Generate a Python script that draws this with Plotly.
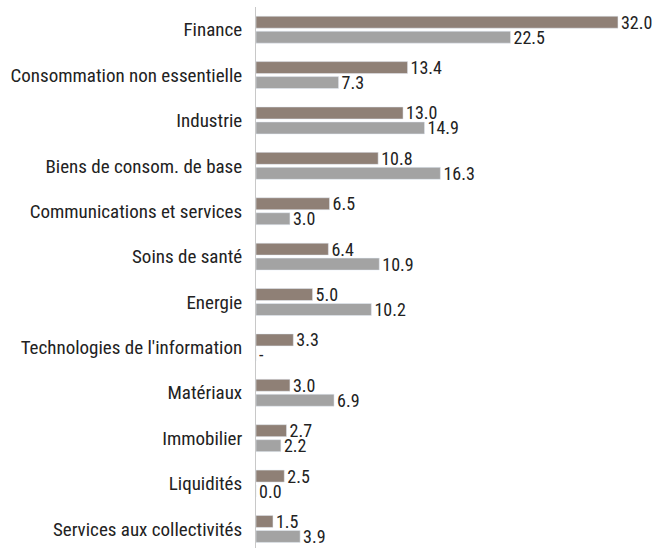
import plotly.graph_objects as go

categories = ["Finance", "Consommation non essentielle", "Industrie", "Biens de consom. de base",
              "Communications et services", "Soins de santé", "Energie",
              "Technologies de l'information", "Matériaux", "Immobilier", "Liquidités",
              "Services aux collectivités"]
series_a = [32.0, 13.4, 13.0, 10.8, 6.5, 6.4, 5.0, 3.3, 3.0, 2.7, 2.5, 1.5]
series_b = [22.5, 7.3, 14.9, 16.3, 3.0, 10.9, 10.2, 0.0, 6.9, 2.2, 0.0, 3.9]
labels_a = ["32.0", "13.4", "13.0", "10.8", "6.5", "6.4", "5.0", "3.3", "3.0", "2.7", "2.5", "1.5"]
labels_b = ["22.5", "7.3", "14.9", "16.3", "3.0", "10.9", "10.2", "-", "6.9", "2.2", "0.0", "3.9"]

FONT = "Roboto Condensed, Liberation Sans Narrow, Arial Narrow, sans-serif"

fig = go.Figure()
fig.add_trace(go.Bar(y=categories, x=series_a, orientation="h", marker_color="#8f8076",
                     text=labels_a, textposition="outside", cliponaxis=False,
                     textfont=dict(size=18, color="#222222", family=FONT), name="A"))
fig.add_trace(go.Bar(y=categories, x=series_b, orientation="h", marker_color="#a3a3a3",
                     text=labels_b, textposition="outside", cliponaxis=False,
                     textfont=dict(size=18, color="#222222", family=FONT), name="B"))

fig.update_layout(
    width=657, height=548,
    margin=dict(l=256, r=0, t=7, b=0),
    barmode="group", bargap=0.34, bargroupgap=0.2,
    showlegend=False,
    plot_bgcolor="white", paper_bgcolor="white",
    font=dict(family=FONT, size=18, color="#222222"),
    uniformtext=dict(minsize=18, mode="show"),
)
fig.update_xaxes(range=[0, 35.45], showgrid=False, zeroline=False, showticklabels=False,
                 ticks="", showline=False, automargin=False)
fig.update_yaxes(range=[11.42, -0.5], showgrid=False, zeroline=False, showline=True,
                 linecolor="#c8c8c8", linewidth=1, ticks="", ticklabelstandoff=9,
                 automargin=False,
                 tickfont=dict(size=19, family=FONT, color="#222222"))

fig.write_html("out.html", config={"displayModeBar": False},
               post_script="document.body.style.margin='0';document.body.style.overflow='hidden';")
